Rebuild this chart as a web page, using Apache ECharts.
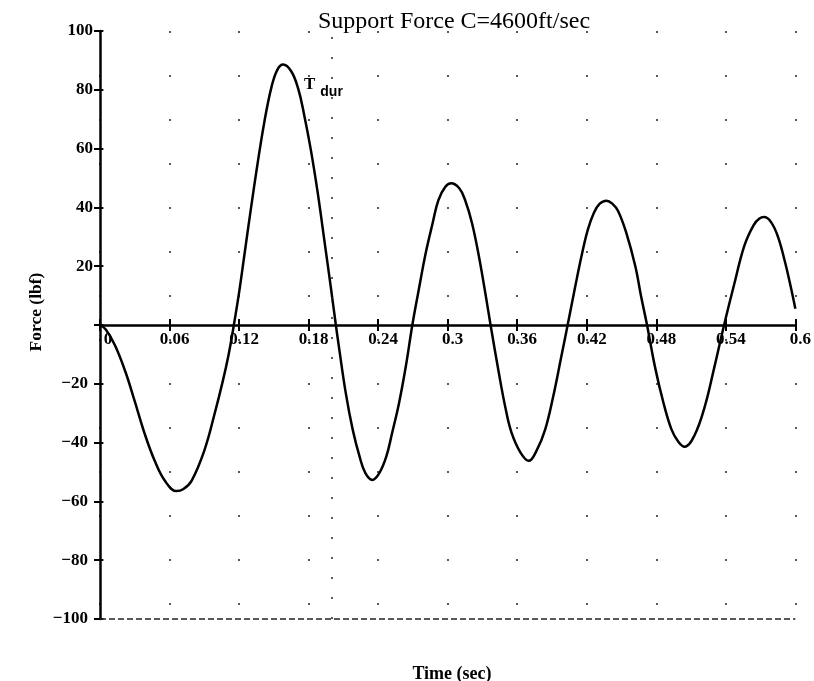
<!DOCTYPE html>
<html>
<head>
<meta charset="utf-8">
<title>Support Force</title>
<script src="https://cdn.jsdelivr.net/npm/echarts@6/dist/echarts.min.js"></script>
<style>
  html, body { margin: 0; padding: 0; background: #fff; }
  #chart { width: 814px; height: 681px; }
</style>
</head>
<body>
<div id="chart"></div>
<script>
// 读图得到的曲线点（时间 s，力 lbf）
const times = [
  0, 0.005, 0.013, 0.022, 0.030, 0.039, 0.047, 0.056, 0.066, 0.072, 0.079, 0.090, 0.099, 0.106, 0.111, 0.1155,
  0.120, 0.125, 0.130, 0.136, 0.142, 0.148, 0.153, 0.158, 0.165, 0.171, 0.176, 0.182, 0.188, 0.194, 0.199, 0.2035,
  0.206, 0.212, 0.218, 0.224, 0.229, 0.235, 0.241, 0.247, 0.252, 0.258, 0.264, 0.2695,
  0.275, 0.281, 0.287, 0.292, 0.298, 0.303, 0.310, 0.315, 0.321, 0.327, 0.333, 0.337,
  0.344, 0.350, 0.355, 0.363, 0.370, 0.377, 0.384, 0.391, 0.398, 0.4035,
  0.410, 0.416, 0.421, 0.426, 0.431, 0.437, 0.442, 0.447, 0.454, 0.462, 0.467, 0.472,
  0.479, 0.486, 0.493, 0.499, 0.5045, 0.513, 0.522, 0.530, 0.5385,
  0.547, 0.556, 0.564, 0.569, 0.573, 0.579, 0.585, 0.591, 0.596, 0.600
];
const forces = [
  0, -1.5, -7, -16, -26, -37.5, -46, -53, -56.5, -55.8, -53, -42.7, -30, -19, -10, 0,
  11, 25, 39, 55, 69.5, 81, 86.8, 88.6, 86.3, 80.4, 71.8, 59.4, 44.6, 27.6, 13.3, 0,
  -7, -23, -35.5, -44.8, -50.4, -52.7, -50.4, -44.8, -36.8, -26.6, -13.8, 0,
  11.9, 24.4, 34.6, 42.5, 47, 48.2, 46.5, 42.5, 34.6, 23.2, 9.6, 0,
  -16, -28.5, -36.5, -43.5, -46.2, -42.5, -35.7, -24.4, -10.8, 0,
  13, 24.4, 32.5, 38, 41.2, 42.3, 41.3, 38.8, 31.5, 19.8, 9.5, 0,
  -14.5, -26.2, -35.4, -39.7, -41.4, -37.5, -27.5, -14.5, 0,
  13.5, 27, 34, 36.2, 36.7, 35, 30, 21.5, 13, 5.5
];

const xTickLabels = ['0', '0.06', '0.12', '0.18', '0.24', '0.3', '0.36', '0.42', '0.48', '0.54', '0.6'];
const yTickLabels = ['\u2212100', '\u221280', '\u221260', '\u221240', '\u221220', '', '20', '40', '60', '80', '100'];

const tDur = 0.2;
const tDurLabelAt = [0.176, 80.5];
const floorLine = -100;

const FONT = '"Liberation Serif", "DejaVu Serif", serif';

const chart = echarts.init(document.getElementById('chart'));

// 坐标区：x 100..798, y 31..619，零线在 325
const gridBox = { left: 100, right: 16, top: 31, bottom: 62 };
const zeroShiftY = -294;   // 底/顶轴移到 y=0 处
const zeroShiftX = -698;   // 右轴移到 x=0 处
const tickLen = 6;
const axisBlack = { color: '#000', width: 2.5 };
const tickStyle = { color: '#000', width: 2 };
const lblStyle = { fontFamily: FONT, fontSize: 17, fontWeight: 'bold', color: '#000' };

chart.setOption({
  animation: false,
  backgroundColor: '#fff',
  title: [
    {
      text: 'Support Force C=4600ft/sec',
      left: 449, top: 5, textAlign: 'center',
      textStyle: { fontFamily: FONT, fontSize: 24, fontWeight: 'normal', color: '#000' }
    },
    {
      text: 'Time (sec)',
      left: 447, top: 660, textAlign: 'center',
      textStyle: { fontFamily: FONT, fontSize: 18, fontWeight: 'bold', color: '#000' }
    }
  ],
  graphic: [{
    type: 'text',
    x: 36, y: 312,
    rotation: Math.PI / 2,
    style: {
      text: 'Force (lbf)', fill: '#000',
      font: 'bold 17.5px ' + FONT,
      align: 'center', verticalAlign: 'middle'
    }
  }],
  grid: gridBox,
  xAxis: [
    {
      type: 'value', min: 0, max: 0.6, interval: 0.06, position: 'bottom', offset: zeroShiftY,
      axisLine: { onZero: false, lineStyle: axisBlack },
      axisTick: { show: true, length: tickLen, lineStyle: tickStyle },
      axisLabel: {
        margin: 6, ...lblStyle,
        formatter: v => {
          const s = xTickLabels[Math.round(v / 0.06)];
          return s === '0' ? '{z|' + s + '}' : '{v|' + s + '}';
        },
        rich: {
          v: { ...lblStyle, padding: [0, 0, 0, 10] },
          z: { ...lblStyle, padding: [0, 0, 0, 16] }
        }
      },
      splitLine: { show: true, lineStyle: { type: [2, 42], color: '#222', width: 1.5 } }
    },
    {
      type: 'value', min: 0, max: 0.6, interval: 0.06, position: 'top', offset: zeroShiftY,
      axisLine: { show: false, onZero: false },
      axisTick: { show: true, length: tickLen, lineStyle: tickStyle },
      axisLabel: { show: false },
      splitLine: { show: false }
    }
  ],
  yAxis: [
    {
      type: 'value', min: -100, max: 100, interval: 20, position: 'left',
      axisLine: { onZero: false, lineStyle: axisBlack },
      axisTick: { show: true, length: tickLen, lineStyle: tickStyle },
      axisLabel: {
        margin: 7, ...lblStyle,
        formatter: v => {
          const s = yTickLabels[Math.round((v + 100) / 20)];
          return v < 0 ? '{n|' + s + '}' : s;
        },
        rich: { n: { ...lblStyle, padding: [0, 5, 0, 0] } }
      },
      splitLine: { show: false }
    },
    {
      type: 'value', min: -100, max: 100, interval: 20, position: 'right', offset: zeroShiftX,
      axisLine: { show: false, onZero: false },
      axisTick: { show: true, length: tickLen, lineStyle: tickStyle },
      axisLabel: { show: false },
      splitLine: { show: false }
    }
  ],
  series: [{
    type: 'line',
    xAxisIndex: 0,
    yAxisIndex: 0,
    data: times.map((t, i) => [t, forces[i]]),
    smooth: 0.4,
    showSymbol: false,
    lineStyle: { color: '#000', width: 2.5 },
    markLine: {
      silent: true,
      symbol: 'none',
      label: { show: false },
      data: [
        { yAxis: floorLine, lineStyle: { type: [6, 3], color: '#222', width: 1.5 } },
        { xAxis: tDur, lineStyle: { type: [2, 18], color: '#222', width: 1.5 } }
      ]
    },
    markPoint: {
      silent: true,
      symbol: 'circle',
      symbolSize: 0,
      data: [{ coord: tDurLabelAt, value: 'T dur' }],
      label: {
        show: true, position: 'right', distance: 0,
        formatter: '{t|T}{s|dur}',
        rich: {
          t: { fontFamily: FONT, fontSize: 17, fontWeight: 'bold', color: '#000', padding: [0, 0, 8, 0] },
          s: { fontFamily: 'Liberation Sans, Arial, sans-serif', fontSize: 14, fontWeight: 'bold', color: '#000', padding: [8, 0, 0, 5] }
        }
      }
    }
  }]
});
</script>
</body>
</html>
